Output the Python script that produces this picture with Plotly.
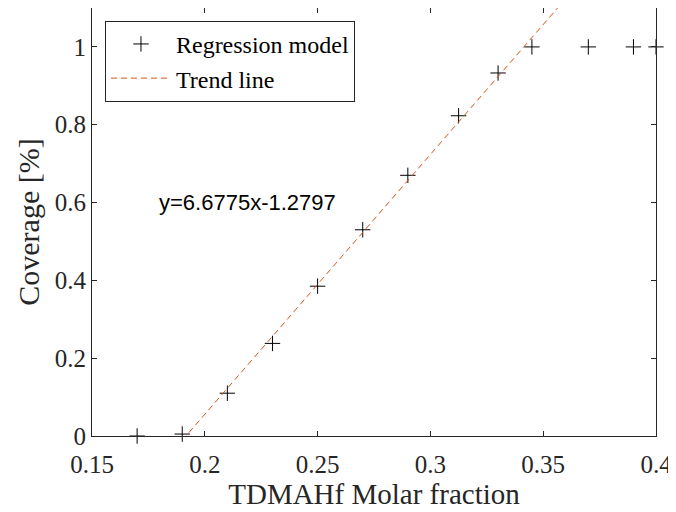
import plotly.graph_objects as go

x_data = [0.17, 0.19, 0.21, 0.23, 0.25, 0.27, 0.29, 0.3125, 0.33, 0.345, 0.37, 0.39, 0.40]
y_data = [0.0, 0.005, 0.11, 0.238, 0.385, 0.53, 0.67, 0.823, 0.933, 1.0, 1.0, 1.0, 1.0]

slope = 6.6775
intercept = -1.2797
trend_x = [0.19, 0.36]
trend_y = [slope * v + intercept for v in trend_x]

x_ticks = [0.15, 0.2, 0.25, 0.3, 0.35, 0.4]
y_ticks = [0, 0.2, 0.4, 0.6, 0.8, 1]

axis_color = "#262626"
serif = "Liberation Serif, Times New Roman, serif"

fig = go.Figure()
fig.add_trace(go.Scatter(
    x=x_data, y=y_data, mode="markers", name="Regression model",
    marker=dict(symbol="cross-thin", size=11, line=dict(color="black", width=1), color="black"),
    cliponaxis=False,
))
fig.add_trace(go.Scatter(
    x=trend_x, y=trend_y, mode="lines", name="Trend line",
    line=dict(color="#D95319", width=1, dash="6px,4px"),
))

fig.add_annotation(
    x=0.179, y=0.6, xref="x", yref="y", xanchor="left", yanchor="middle",
    text="y=6.6775x-1.2797", showarrow=False,
    font=dict(family="Liberation Sans, Arial, sans-serif", size=22, color="black"),
)

axis_common = dict(
    showgrid=False, zeroline=False, showline=True, linecolor=axis_color, linewidth=1,
    mirror="ticks", ticks="inside", ticklen=5, tickcolor=axis_color, tickwidth=1,
)

fig.update_layout(
    width=668, height=504,
    margin=dict(l=84, r=20, t=0, b=76),
    paper_bgcolor="white", plot_bgcolor="white",
    xaxis=dict(range=[0.15, 0.4], tickvals=x_ticks, ticktext=[str(v) for v in x_ticks],
               ticklabelstandoff=6,
               tickfont=dict(family=serif, size=25, color="#262626"),
               title=dict(text="TDMAHf Molar fraction", font=dict(family=serif, size=29, color="#262626"), standoff=3),
               **axis_common),
    yaxis=dict(range=[0, 1.1], tickvals=y_ticks, ticktext=[str(v) for v in y_ticks],
               tickfont=dict(family=serif, size=25, color="#262626"),
               title=dict(text="Coverage [%]", font=dict(family=serif, size=30, color="#262626"), standoff=6),
               **axis_common),
    legend=dict(x=0.023, y=0.970, xanchor="left", yanchor="top",
                bordercolor=axis_color, borderwidth=1, bgcolor="white",
                font=dict(family=serif, size=24, color="black"),
                tracegroupgap=0, itemwidth=60),
    showlegend=True,
)

fig.write_html("out.html")
